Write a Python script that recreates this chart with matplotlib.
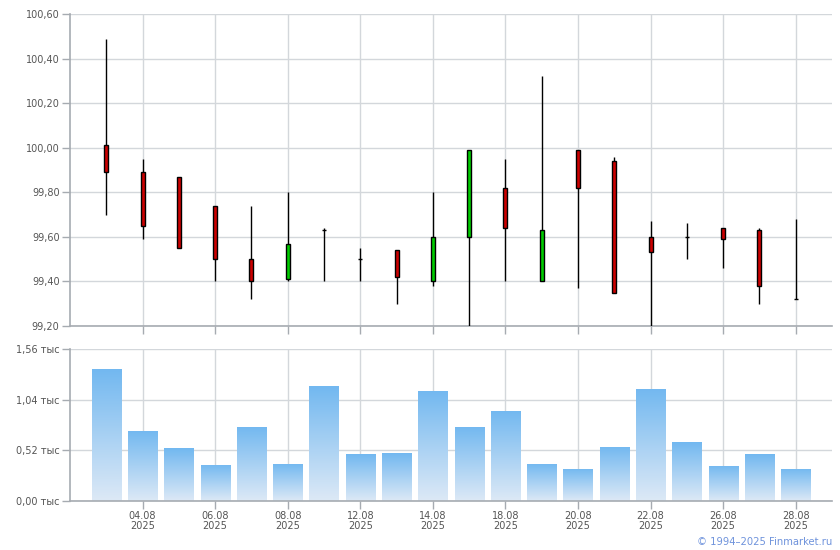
import matplotlib
matplotlib.use("Agg")
import matplotlib.pyplot as plt
import numpy as np
from matplotlib.ticker import FuncFormatter, FixedLocator

dates = ["01.08", "04.08", "05.08", "06.08", "07.08", "08.08", "11.08", "12.08", "13.08", "14.08",
         "15.08", "18.08", "19.08", "20.08", "21.08", "22.08", "25.08", "26.08", "27.08", "28.08"]
year = "2025"
opens = [100.01, 99.89, 99.87, 99.74, 99.50, 99.41, 99.63, 99.50, 99.54, 99.40,
         99.60, 99.82, 99.40, 99.99, 99.94, 99.60, 99.60, 99.64, 99.63, 99.32]
closes = [99.89, 99.65, 99.55, 99.50, 99.40, 99.57, 99.63, 99.50, 99.42, 99.60,
          99.99, 99.64, 99.63, 99.82, 99.35, 99.53, 99.60, 99.59, 99.38, 99.32]
highs = [100.49, 99.95, 99.87, 99.74, 99.74, 99.80, 99.64, 99.55, 99.54, 99.80,
         99.99, 99.95, 100.32, 99.99, 99.96, 99.67, 99.66, 99.64, 99.64, 99.68]
lows = [99.70, 99.59, 99.55, 99.40, 99.32, 99.40, 99.40, 99.40, 99.30, 99.38,
        99.20, 99.40, 99.40, 99.37, 99.35, 99.20, 99.50, 99.46, 99.30, 99.32]
volumes = [1.35, 0.72, 0.54, 0.37, 0.76, 0.38, 1.18, 0.48, 0.49, 1.13,
           0.76, 0.925, 0.38, 0.33, 0.555, 1.15, 0.605, 0.36, 0.48, 0.33]
label_idx = [1, 3, 5, 7, 9, 11, 13, 15, 17, 19]
price_ticks = [99.2, 99.4, 99.6, 99.8, 100.0, 100.2, 100.4, 100.6]
vol_ticks = [0.0, 0.52, 1.04, 1.56]

plt.rcParams['font.family'] = ['DejaVu Sans']
fig = plt.figure(figsize=(8.4, 5.5), dpi=100)
ax1 = fig.add_axes([70/840, 1-326/550, 762/840, 312/550])
ax2 = fig.add_axes([70/840, 1-501/550, 762/840, 152/550])

grid_c = "#d3d7db"
spine_c = "#a6abb1"
text_c = "#555555"
x = np.arange(len(dates))

for ax in (ax1, ax2):
    ax.set_xlim(-1, len(dates))
    for s in ("top", "right"):
        ax.spines[s].set_visible(False)
    for s in ("left", "bottom"):
        ax.spines[s].set_color(spine_c)
        ax.spines[s].set_linewidth(1.2)
    ax.xaxis.set_major_locator(FixedLocator(label_idx))
    ax.grid(True, color=grid_c, linewidth=1)
    ax.set_axisbelow(True)
    ax.tick_params(axis="both", colors=spine_c, labelcolor=text_c, labelsize=7, length=5.5, width=1)
    ax.tick_params(axis="y", pad=2)

# Candles
w = 0.11
ax1.vlines(x, lows, highs, color="black", linewidth=1, zorder=3)
for i in x:
    o, c = opens[i], closes[i]
    if abs(c - o) < 1e-9:
        ax1.hlines(c, i - 0.06, i + 0.06, color="black", linewidth=1, zorder=4)
    else:
        col = "#cc0000" if c < o else "#00cc00"
        ax1.bar(i, abs(c - o), bottom=min(o, c), width=w, color=col,
                edgecolor="black", linewidth=1, zorder=4)
ax1.set_ylim(99.2, 100.6)
ax1.yaxis.set_major_locator(FixedLocator(price_ticks))
ax1.yaxis.set_major_formatter(FuncFormatter(lambda v, p: f"{v:.2f}".replace(".", ",")))
ax1.set_xticklabels([])

# Volume bars with vertical gradient
bars = ax2.bar(x, volumes, width=0.8, color="none", edgecolor="none", zorder=2)
grad = np.linspace(0, 1, 256).reshape(-1, 1)
from matplotlib.colors import LinearSegmentedColormap
cmap = LinearSegmentedColormap.from_list("g", ["#dde9f6", "#72b8f0"])
for b in bars:
    x0, y0, bw, bh = b.get_x(), b.get_y(), b.get_width(), b.get_height()
    im = ax2.imshow(grad, extent=[x0, x0 + bw, y0, y0 + bh], origin="lower",
                    cmap=cmap, aspect="auto", zorder=2)
    im.set_clip_path(b)
ax2.set_xlim(-1, len(dates))
ax2.set_ylim(0, 1.56)
ax2.set_aspect("auto")
ax2.yaxis.set_major_locator(FixedLocator(vol_ticks))
ax2.yaxis.set_major_formatter(FuncFormatter(lambda v, p: f"{v:.2f}".replace(".", ",") + " тыс"))
ax2.set_xticklabels([f"{dates[i]}\n{year}" for i in label_idx], linespacing=1.0)
ax2.tick_params(axis="x", pad=2)

fig.text(832/840, 1-542/550, "© 1994–2025 Finmarket.ru", color="#6f93dc",
         fontsize=7.2, ha="right", va="center")

fig.savefig("out.png", dpi=100)
